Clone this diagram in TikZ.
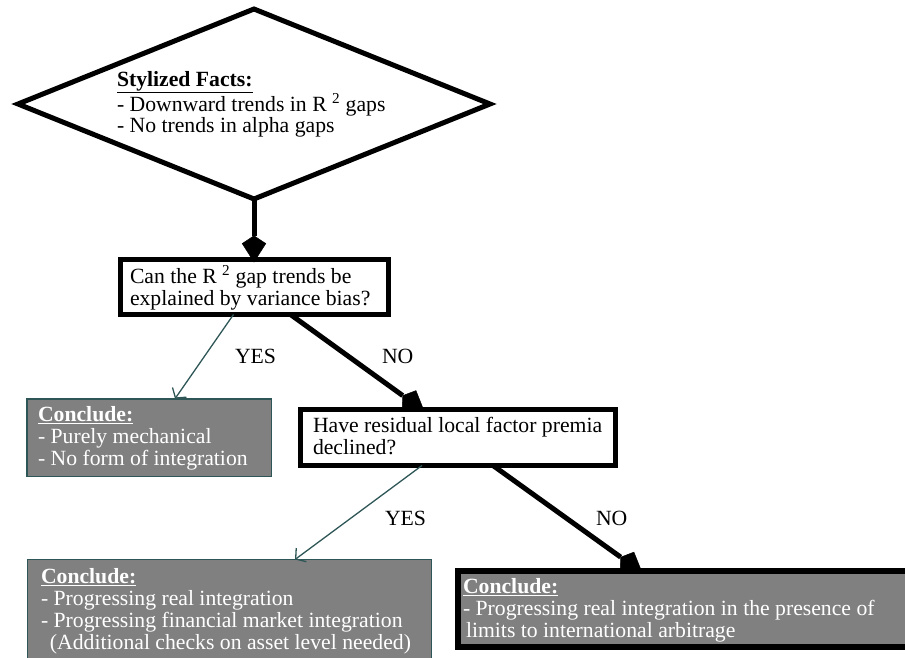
\documentclass[tikz,border=0pt]{standalone}
\usepackage{fontspec}
\setmainfont{Liberation Serif}
\usetikzlibrary{shapes.geometric,arrows.meta}
\definecolor{boxgray}{HTML}{808080}
\definecolor{slateteal}{HTML}{2F5656}
\begin{document}
\begin{tikzpicture}[x=1pt,y=-1pt,
  every node/.style={font=\fontsize{21.7}{21.7}\selectfont},
  txt/.style={anchor=base west, inner sep=0pt, outer sep=0pt, align=left},
  wtxt/.style={txt, text=white},
  qbox/.style={rectangle, draw=black, line width=5pt, fill=white, inner sep=0pt, outer sep=0pt},
  cbox/.style={rectangle, draw=slateteal, line width=1.5pt, fill=boxgray, inner sep=0pt, outer sep=0pt},
  cboxthick/.style={rectangle, draw=black, line width=6pt, fill=boxgray, inner sep=0pt, outer sep=0pt},
  factbox/.style={diamond, draw=black, line width=5pt, fill=white, inner sep=0pt, outer sep=0pt},
  bigarrow/.style={draw=black, line width=5pt, shorten >=-3pt, -{Stealth[length=19pt,width=24pt,inset=-8pt,line width=0.5pt]}},
  thinarrow/.style={draw=slateteal, line width=1.3pt, -{Straight Barb[length=7pt,width=17pt]}}
]
\useasboundingbox (0,0) rectangle (905,658);
\clip (0,0) rectangle (905,658);

% boxes
\node[factbox, minimum width=472pt, minimum height=190pt] (facts) at (254,104) {};
\node[qbox, minimum width=268pt, minimum height=55pt] (q1) at (254,287) {};
\node[cbox, minimum width=244.5pt, minimum height=77.5pt] (c1) at (149,437.5) {};
\node[qbox, minimum width=315pt, minimum height=56pt] (q2) at (458,437.5) {};
\node[cbox, minimum width=404pt, minimum height=110pt] (c2) at (229.5,614.5) {};
\node[cboxthick, minimum width=454pt, minimum height=76pt] (c3) at (685,609) {};

% texts (anchor = baseline of the last line)
\node[txt] (factstxt) at (117,133) {\underline{\textbf{Stylized Facts:}}\\- Downward trends in R \textsuperscript{2} gaps\\- No trends in alpha gaps};
\node[txt] (q1txt) at (130,305) {Can the R \textsuperscript{2} gap trends be\\explained by variance bias?};
\node[wtxt] (c1txt) at (38,465) {\underline{\textbf{Conclude:}}\\- Purely mechanical\\- No form of integration};
\node[txt] (q2txt) at (313,454) {Have residual local factor premia\\declined?};
\node[wtxt] (c2txt) at (41,649) {\underline{\textbf{Conclude:}}\\- Progressing real integration\\- Progressing financial market integration\\\hspace{9pt}(Additional checks on asset level needed)};
\node[wtxt] (c3txt) at (463,637) {\underline{\textbf{Conclude:}}\\- Progressing real integration in the presence of\\\hspace{3pt}limits to international arbitrage};

% connectors
\draw[bigarrow] (facts.south) -- (q1.north);
\draw[thinarrow] ([xshift=-20.5pt]q1.south) -- ([xshift=26pt]c1.north);
\draw[bigarrow] ([xshift=36.5pt]q1.south) -- ([xshift=-36pt]q2.north);
\draw[thinarrow] ([xshift=-36pt]q2.south) -- ([xshift=65.5pt]c2.north);
\draw[bigarrow] ([xshift=35pt]q2.south) -- ([xshift=-45pt]c3.north);

% labels
\node[txt] (yes1) at (235,363) {YES};
\node[txt] (no1) at (382,363) {NO};
\node[txt] (yes2) at (385,525) {YES};
\node[txt] (no2) at (596,525) {NO};
\end{tikzpicture}
\end{document}
